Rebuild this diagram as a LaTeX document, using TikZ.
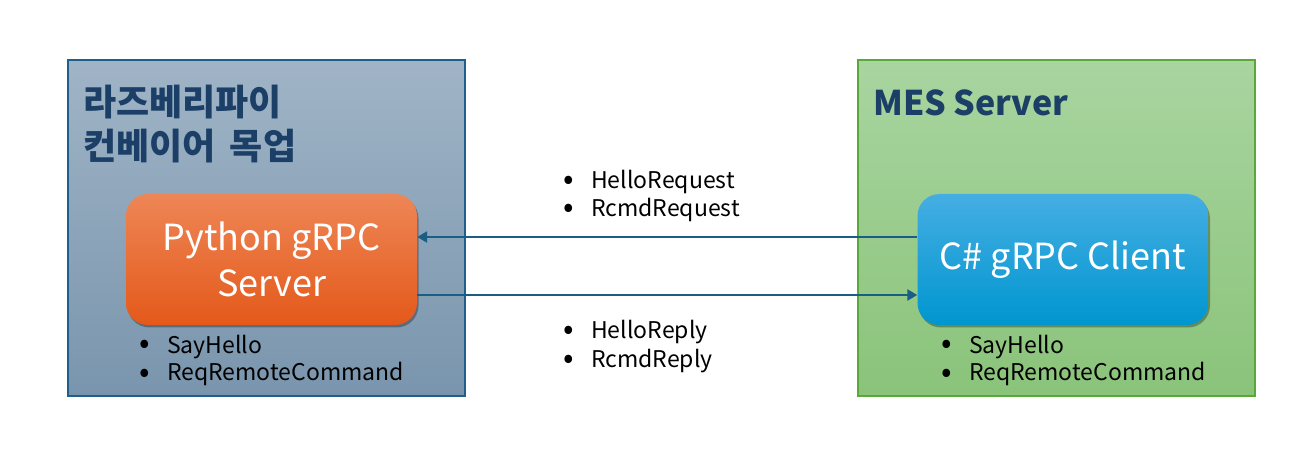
\documentclass[tikz,border=0pt]{standalone}
\usepackage{fontspec}
\setmainfont{Noto Sans CJK KR}
\usetikzlibrary{shadows,arrows.meta}
\definecolor{leftborder}{HTML}{1F5F8B}
\definecolor{lefttop}{HTML}{A0B4C6}
\definecolor{leftbot}{HTML}{7995AD}
\definecolor{rightborder}{HTML}{5AA83A}
\definecolor{righttop}{HTML}{A9D5A0}
\definecolor{rightbot}{HTML}{8AC37A}
\definecolor{orangetop}{HTML}{EE8656}
\definecolor{orangebot}{HTML}{E4591A}
\definecolor{bluetop}{HTML}{45AEE3}
\definecolor{bluebot}{HTML}{0096CF}
\definecolor{arrowcol}{HTML}{1A5E86}
\definecolor{titlecol}{HTML}{1B3F66}
\tikzset{
  panel/.style={line width=1.5pt},
  app/.style={rounded corners=22pt, minimum width=291pt, minimum height=131pt,
    text=white, font=\fontsize{36}{46}\selectfont, align=center, inner sep=0pt,
    drop shadow={shadow xshift=1.5pt, shadow yshift=-2.5pt, opacity=0.3, fill=black}},
  title/.style={anchor=west, text=titlecol, font=\bfseries\fontsize{36}{44}\selectfont, align=left, inner sep=0pt},
  blist/.style={anchor=base west, font=\fontsize{23}{28}\selectfont, inner sep=0pt},
  bdot/.style={anchor=base, font=\fontsize{31}{28}\selectfont, inner sep=0pt, yshift=-1pt},
  conn/.style={draw=arrowcol, line width=2.4pt, -{Triangle[length=10pt,width=11pt]}}
}
\begin{document}
\begin{tikzpicture}[x=1pt,y=-1pt]
\useasboundingbox (0,0) rectangle (1315,470);
\fill[white] (0,0) rectangle (1315,470);
% panels
\draw[panel, draw=leftborder, top color=lefttop, bottom color=leftbot] (68,60) rectangle (465,396);
\draw[panel, draw=rightborder, top color=righttop, bottom color=rightbot] (858,60) rectangle (1255,396);
\node[title] (ltitle) at (83,124) {라즈베리파이\\컨베이어\hspace{6pt} 목업};
\node[title, font=\bfseries\fontsize{34}{44}\selectfont] (rtitle) at (873,103) {MES Server};
% app nodes
\node[app, top color=orangetop, bottom color=orangebot] (srv) at (271.5,259.5) {Python gRPC\\Server};
\node[app, top color=bluetop, bottom color=bluebot] (cli) at (1063,259.5) {C\# gRPC Client};
% arrows
\draw[conn] (cli.west |- 0,237) coordinate (c1) -- (srv.east |- 0,237) coordinate (s1);
\draw[conn] (srv.east |- 0,295) coordinate (s2) -- (cli.west |- 0,295) coordinate (c2);
% lists
\node[bdot] (l1d) at (145,353) {•};
\node[blist] (l1) at (167,353) {SayHello};
\node[bdot] (l2d) at (145,381) {•};
\node[blist] (l2) at (167,381) {ReqRemoteCommand};
\node[bdot] (r1d) at (947,353) {•};
\node[blist] (r1) at (969,353) {SayHello};
\node[bdot] (r2d) at (947,381) {•};
\node[blist] (r2) at (969,381) {ReqRemoteCommand};
\node[bdot] (m1d) at (569,189) {•};
\node[blist] (m1) at (591,189) {HelloRequest};
\node[bdot] (m2d) at (569,217) {•};
\node[blist] (m2) at (591,217) {RcmdRequest};
\node[bdot] (m3d) at (569,339) {•};
\node[blist] (m3) at (591,339) {HelloReply};
\node[bdot] (m4d) at (569,367) {•};
\node[blist] (m4) at (591,367) {RcmdReply};
\end{tikzpicture}
\end{document}
